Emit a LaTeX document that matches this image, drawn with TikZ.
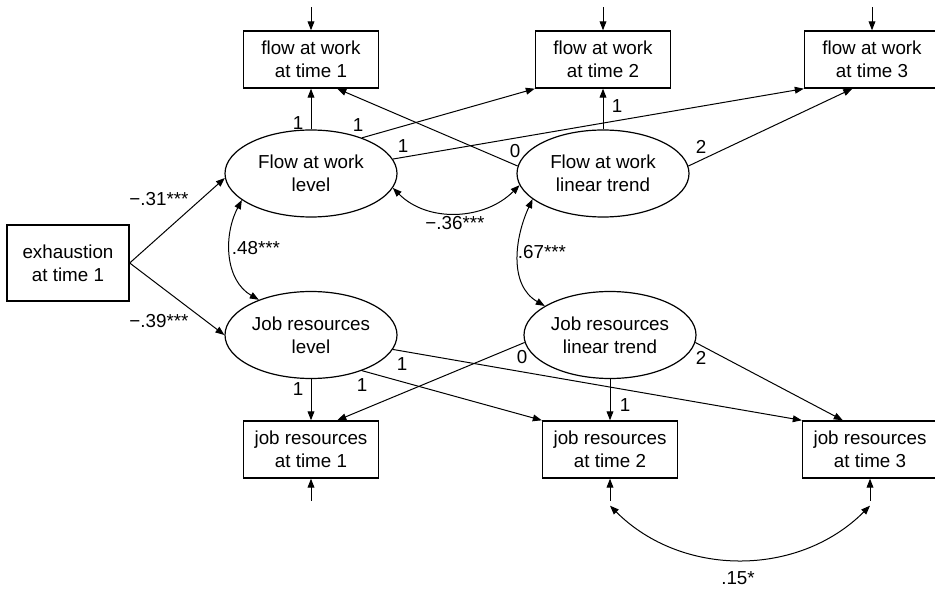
\documentclass[tikz,border=0pt]{standalone}
\usepackage{fontspec}
\setmainfont{Liberation Sans}
\usetikzlibrary{arrows.meta, positioning, shapes.geometric}

\begin{document}
\begin{tikzpicture}[x=0.5pt, y=0.5pt,
    >={Triangle[length=4.5pt,width=3.4pt]},
    font=\fontsize{9.4}{11.5}\selectfont,
    obs/.style={draw, line width=0.7pt, rectangle, minimum width=67.5pt, minimum height=28.5pt, align=center, inner sep=0pt},
    lat/.style={draw, line width=0.6pt, ellipse, minimum width=86pt, minimum height=43.5pt, align=center, inner sep=0pt},
    load/.style={->, line width=0.5pt},
    covar/.style={<->, line width=0.5pt},
    lab/.style={inner sep=0pt}]

    \useasboundingbox (0,0) rectangle (935,589);

    % Observed variables
    \node[obs] (flow1) at (311,529.5) {flow at work\\at time 1};
    \node[obs] (flow2) at (603,529.5) {flow at work\\at time 2};
    \node[obs] (flow3) at (872,529.5) {flow at work\\at time 3};
    \node[obs, minimum width=61pt, minimum height=38pt] (exh) at (68,326) {exhaustion\\at time 1};
    \node[obs] (job1) at (311,139.5) {job resources\\at time 1};
    \node[obs] (job2) at (610,139.5) {job resources\\at time 2};
    \node[obs] (job3) at (870,139.5) {job resources\\at time 3};

    % Latent factors
    \node[lat] (FL) at (311,415.5) {Flow at work\\level};
    \node[lat] (FT) at (603,415.5) {Flow at work\\linear trend};
    \node[lat] (JL) at (311,254) {Job resources\\level};
    \node[lat] (JT) at (610,254) {Job resources\\linear trend};

    % Residual terms
    \coordinate[above=11.5pt of flow1] (d1);
    \coordinate[above=11.5pt of flow2] (d2);
    \coordinate[above=11.5pt of flow3] (d3);
    \coordinate[below=11pt of job1] (u1);
    \coordinate[below=11pt of job2] (u2);
    \coordinate[below=11pt of job3] (u3);
    \coordinate[below=13.5pt of job2] (c2);
    \coordinate[below=13.5pt of job3] (c3);
    \draw[load] (d1) -- (flow1);
    \draw[load] (d2) -- (flow2);
    \draw[load] (d3) -- (flow3);
    \draw[load] (u1) -- (job1);
    \draw[load] (u2) -- (job2);
    \draw[load] (u3) -- (job3);

    % Regression paths
    \draw[load] (exh.east) -- (FL.183);
    \draw[load] (exh.east) -- (JL.west);

    % Flow at work loadings
    \draw[load] (FL.north) -- (flow1.south);
    \draw[load] (FL.35) -- (flow2.south west);
    \draw[load] (FL.10) -- (flow3.south west);
    \draw[load] (FT.175) -- (flow1.-48);
    \draw[load] (FT.north) -- (flow2.south);
    \draw[load] (FT.5) -- (flow3.-124);

    % Job resources loadings
    \draw[load] (JL.south) -- (job1.north);
    \draw[load] (JL.-35) -- (job2.north west);
    \draw[load] (JL.-10) -- (job3.north west);
    \draw[load] (JT.185) -- (job1.48);
    \draw[load] (JT.south) -- (job2.north);
    \draw[load] (JT.-5) -- (job3.133);

    % Covariances
    \draw[covar] (FL.-10) to[out=-45, in=-135] (FT.-172);
    \draw[covar] (FL.-159) to[out=-118, in=150] (JL.146);
    \draw[covar] (FT.-160) to[out=-115, in=150] (JT.156);
    \draw[covar] (c2) to[out=-45, in=-135] (c3);

    % Labels
    \node[lab] (l1) at (159,390) {−.31***};
    \node[lab] (l2) at (159,268) {−.39***};
    \node[lab] (l3) at (455,366) {−.36***};
    \node[lab] (l4) at (256,341) {.48***};
    \node[lab] (l5) at (542,337) {.67***};
    \node[lab] (l6) at (738,11) {.15*};
    \node[lab] (a1) at (298,466) {1};
    \node[lab] (a2) at (358,464) {1};
    \node[lab] (a3) at (403,443) {1};
    \node[lab] (a4) at (515,438) {0};
    \node[lab] (a5) at (617,483) {1};
    \node[lab] (a6) at (701,442) {2};
    \node[lab] (b1) at (298,200) {1};
    \node[lab] (b2) at (362,204) {1};
    \node[lab] (b3) at (402,225) {1};
    \node[lab] (b4) at (522,232) {0};
    \node[lab] (b5) at (625,184) {1};
    \node[lab] (b6) at (701,231) {2};

\end{tikzpicture}
\end{document}
